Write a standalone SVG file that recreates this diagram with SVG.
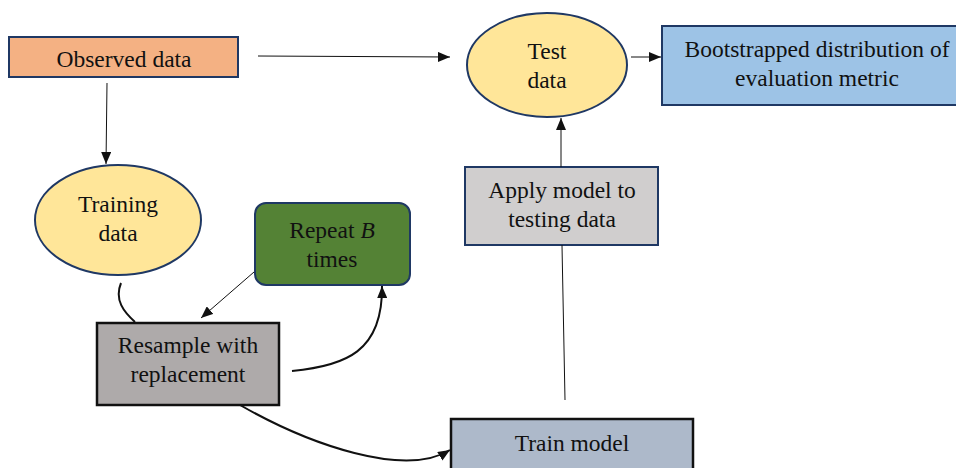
<svg xmlns="http://www.w3.org/2000/svg" width="956" height="468" viewBox="0 0 956 468">
<style>
text{font-family:"Liberation Serif","Times New Roman",serif;font-size:23.5px;fill:#111;text-anchor:middle}
.n{stroke:#1F3864;stroke-width:2}
.k{stroke:#111;stroke-width:2.5}
.thin{fill:none;stroke:#111;stroke-width:1}
.thick{fill:none;stroke:#111;stroke-width:2}
</style>
<defs>
<marker id="ah" viewBox="0 0 12 10" refX="12" refY="5" markerWidth="12" markerHeight="10" markerUnits="userSpaceOnUse" orient="auto">
<path d="M0,0 L12,5 L0,10 Z" fill="#111"/>
</marker>
</defs>
<g id="observed">
<rect x="9" y="37" width="229" height="40" fill="#F4B183" class="n"/>
<text x="124" y="67">Observed data</text>
</g>
<g id="test">
<ellipse cx="547" cy="65" rx="80" ry="52" fill="#FFE699" class="n"/>
<text x="547" y="59">Test</text>
<text x="547" y="88">data</text>
</g>
<g id="bootstrapped">
<rect x="662" y="26" width="300" height="79" fill="#9DC3E6" class="n"/>
<text x="817" y="57">Bootstrapped distribution of</text>
<text x="817" y="86">evaluation metric</text>
</g>
<g id="training">
<ellipse cx="118" cy="220" rx="83" ry="55" fill="#FFE699" class="n"/>
<text x="118" y="212">Training</text>
<text x="118" y="241">data</text>
</g>
<g id="repeat">
<rect x="255" y="203" width="155" height="82" rx="11" fill="#548235" class="n"/>
<text x="332" y="238">Repeat <tspan font-style="italic">B</tspan></text>
<text x="332" y="267">times</text>
</g>
<g id="apply">
<rect x="465" y="167" width="193" height="78" fill="#D0CECE" class="n"/>
<text x="562" y="198">Apply model to</text>
<text x="562" y="227">testing data</text>
</g>
<g id="resample">
<rect x="97" y="323" width="182" height="82" fill="#AEAAAA" class="k"/>
<text x="188" y="353">Resample with</text>
<text x="188" y="382">replacement</text>
</g>
<g id="train">
<rect x="451" y="419" width="242" height="60" fill="#ADB9CA" class="k"/>
<text x="572" y="451">Train model</text>
</g>
<g id="connectors">
<path d="M258,56 L450,57" class="thin" marker-end="url(#ah)"/>
<path d="M631,57 L661,57" class="thin" marker-end="url(#ah)"/>
<path d="M107,83 L106,164" class="thin" marker-end="url(#ah)"/>
<path d="M561,167 L561,118" class="thin" marker-end="url(#ah)"/>
<path d="M565,400 L562,245" class="thin"/>
<path d="M254,272 L201,318" class="thin" marker-end="url(#ah)"/>
<path d="M121,283 C114,300 124,312 135,322" class="thick"/>
<path d="M292,371 C345,366 383,352 382,286" class="thick" marker-end="url(#ah)"/>
<path d="M240,405 C310,445 405,478 450,450" class="thick" marker-end="url(#ah)"/>
</g>
</svg>
